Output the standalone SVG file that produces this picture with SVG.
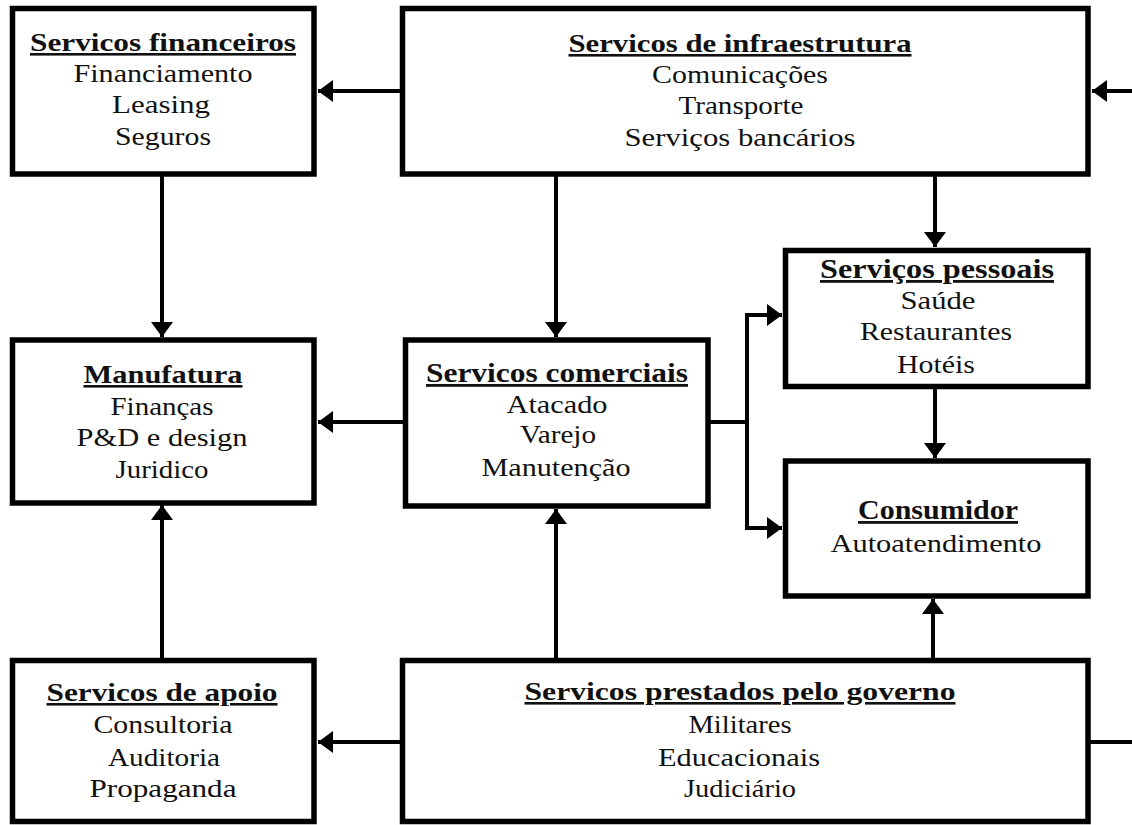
<svg xmlns="http://www.w3.org/2000/svg" width="1132" height="825" viewBox="0 0 1132 825">
<style>
.box{fill:#fff;stroke:#000;stroke-width:5.5}
.t{font-family:"Liberation Serif","Times New Roman",serif;font-size:25px;fill:#111;text-anchor:middle}
.h{font-weight:bold;text-decoration:underline;font-size:26px}
.L{font-size:26px}
.hL{font-size:28px}
.c{fill:none;stroke:#000;stroke-width:4}
</style>
<defs>
<marker id="ah" markerUnits="userSpaceOnUse" markerWidth="16" markerHeight="22" refX="15" refY="11" orient="auto">
<path d="M0,0 L15,11 L0,22 Z" fill="#000"/>
</marker>
</defs>
<rect width="1132" height="825" fill="#fff"/>
<g id="connectors">
<path class="c" d="M400,91 H318" marker-end="url(#ah)"/>
<path class="c" d="M162,176 V337" marker-end="url(#ah)"/>
<path class="c" d="M556,176 V337" marker-end="url(#ah)"/>
<path class="c" d="M935,176 V247" marker-end="url(#ah)"/>
<path class="c" d="M403,422 H318" marker-end="url(#ah)"/>
<path class="c" d="M710,422 H747 V315 H782" marker-end="url(#ah)"/>
<path class="c" d="M747,422 V528 H782" marker-end="url(#ah)"/>
<path class="c" d="M935,388 V458" marker-end="url(#ah)"/>
<path class="c" d="M556,658 V509" marker-end="url(#ah)"/>
<path class="c" d="M933,658 V599" marker-end="url(#ah)"/>
<path class="c" d="M400,742 H318" marker-end="url(#ah)"/>
<path class="c" d="M162,658 V505" marker-end="url(#ah)"/>
<path class="c" d="M1090,742 H1145 V91 H1092" marker-end="url(#ah)"/>
</g>
<g id="financeiros">
<rect class="box" x="12.5" y="8.5" width="301.5" height="165.5"/>
<text class="t h" x="163" y="51" textLength="266" lengthAdjust="spacingAndGlyphs">Servicos financeiros</text>
<text class="t" x="163" y="82" textLength="179" lengthAdjust="spacingAndGlyphs">Financiamento</text>
<text class="t" x="161" y="113" textLength="98" lengthAdjust="spacingAndGlyphs">Leasing</text>
<text class="t" x="163" y="145" textLength="96" lengthAdjust="spacingAndGlyphs">Seguros</text>
</g>
<g id="infraestrutura">
<rect class="box" x="402.5" y="8.5" width="685.5" height="165.5"/>
<text class="t h" x="740" y="52" textLength="343" lengthAdjust="spacingAndGlyphs">Servicos de infraestrutura</text>
<text class="t" x="740" y="83" textLength="176" lengthAdjust="spacingAndGlyphs">Comunicações</text>
<text class="t" x="741" y="114" textLength="125" lengthAdjust="spacingAndGlyphs">Transporte</text>
<text class="t" x="740" y="146" textLength="231" lengthAdjust="spacingAndGlyphs">Serviços  bancários</text>
</g>
<g id="manufatura">
<rect class="box" x="12.5" y="340" width="301.5" height="163"/>
<text class="t h" x="163" y="383" textLength="159" lengthAdjust="spacingAndGlyphs">Manufatura</text>
<text class="t" x="162" y="415" textLength="103" lengthAdjust="spacingAndGlyphs">Finanças</text>
<text class="t" x="162" y="446" textLength="171" lengthAdjust="spacingAndGlyphs">P&amp;D e design</text>
<text class="t" x="162" y="478" textLength="93" lengthAdjust="spacingAndGlyphs">Juridico</text>
</g>
<g id="comerciais">
<rect class="box" x="405.5" y="340" width="302.5" height="166"/>
<text class="t h hL" x="557" y="382" textLength="262" lengthAdjust="spacingAndGlyphs">Servicos comerciais</text>
<text class="t L" x="557" y="413" textLength="101" lengthAdjust="spacingAndGlyphs">Atacado</text>
<text class="t L" x="558" y="443" textLength="76" lengthAdjust="spacingAndGlyphs">Varejo</text>
<text class="t L" x="556" y="476" textLength="149" lengthAdjust="spacingAndGlyphs">Manutenção</text>
</g>
<g id="pessoais">
<rect class="box" x="785.5" y="250.5" width="302.5" height="136"/>
<text class="t h hL" x="937" y="278" textLength="234" lengthAdjust="spacingAndGlyphs">Serviços pessoais</text>
<text class="t L" x="938" y="309" textLength="75" lengthAdjust="spacingAndGlyphs">Saúde</text>
<text class="t L" x="936" y="340" textLength="152" lengthAdjust="spacingAndGlyphs">Restaurantes</text>
<text class="t L" x="936" y="373" textLength="78" lengthAdjust="spacingAndGlyphs">Hotéis</text>
</g>
<g id="consumidor">
<rect class="box" x="785.5" y="461" width="302.5" height="135"/>
<text class="t h hL" x="938" y="519" textLength="160" lengthAdjust="spacingAndGlyphs">Consumidor</text>
<text class="t L" x="936" y="552" textLength="211" lengthAdjust="spacingAndGlyphs">Autoatendimento</text>
</g>
<g id="apoio">
<rect class="box" x="12.5" y="660.5" width="301.5" height="161"/>
<text class="t h" x="162" y="701" textLength="231" lengthAdjust="spacingAndGlyphs">Servicos de apoio</text>
<text class="t" x="163" y="733" textLength="139" lengthAdjust="spacingAndGlyphs">Consultoria</text>
<text class="t" x="164" y="766" textLength="112" lengthAdjust="spacingAndGlyphs">Auditoria</text>
<text class="t" x="163" y="797" textLength="147" lengthAdjust="spacingAndGlyphs">Propaganda</text>
</g>
<g id="governo">
<rect class="box" x="402.5" y="660.5" width="685.5" height="161"/>
<text class="t h" x="740" y="700" textLength="431" lengthAdjust="spacingAndGlyphs">Servicos prestados pelo governo</text>
<text class="t" x="740" y="733" textLength="103" lengthAdjust="spacingAndGlyphs">Militares</text>
<text class="t" x="739" y="766" textLength="162" lengthAdjust="spacingAndGlyphs">Educacionais</text>
<text class="t" x="740" y="797" textLength="112" lengthAdjust="spacingAndGlyphs">Judiciário</text>
</g>
</svg>
